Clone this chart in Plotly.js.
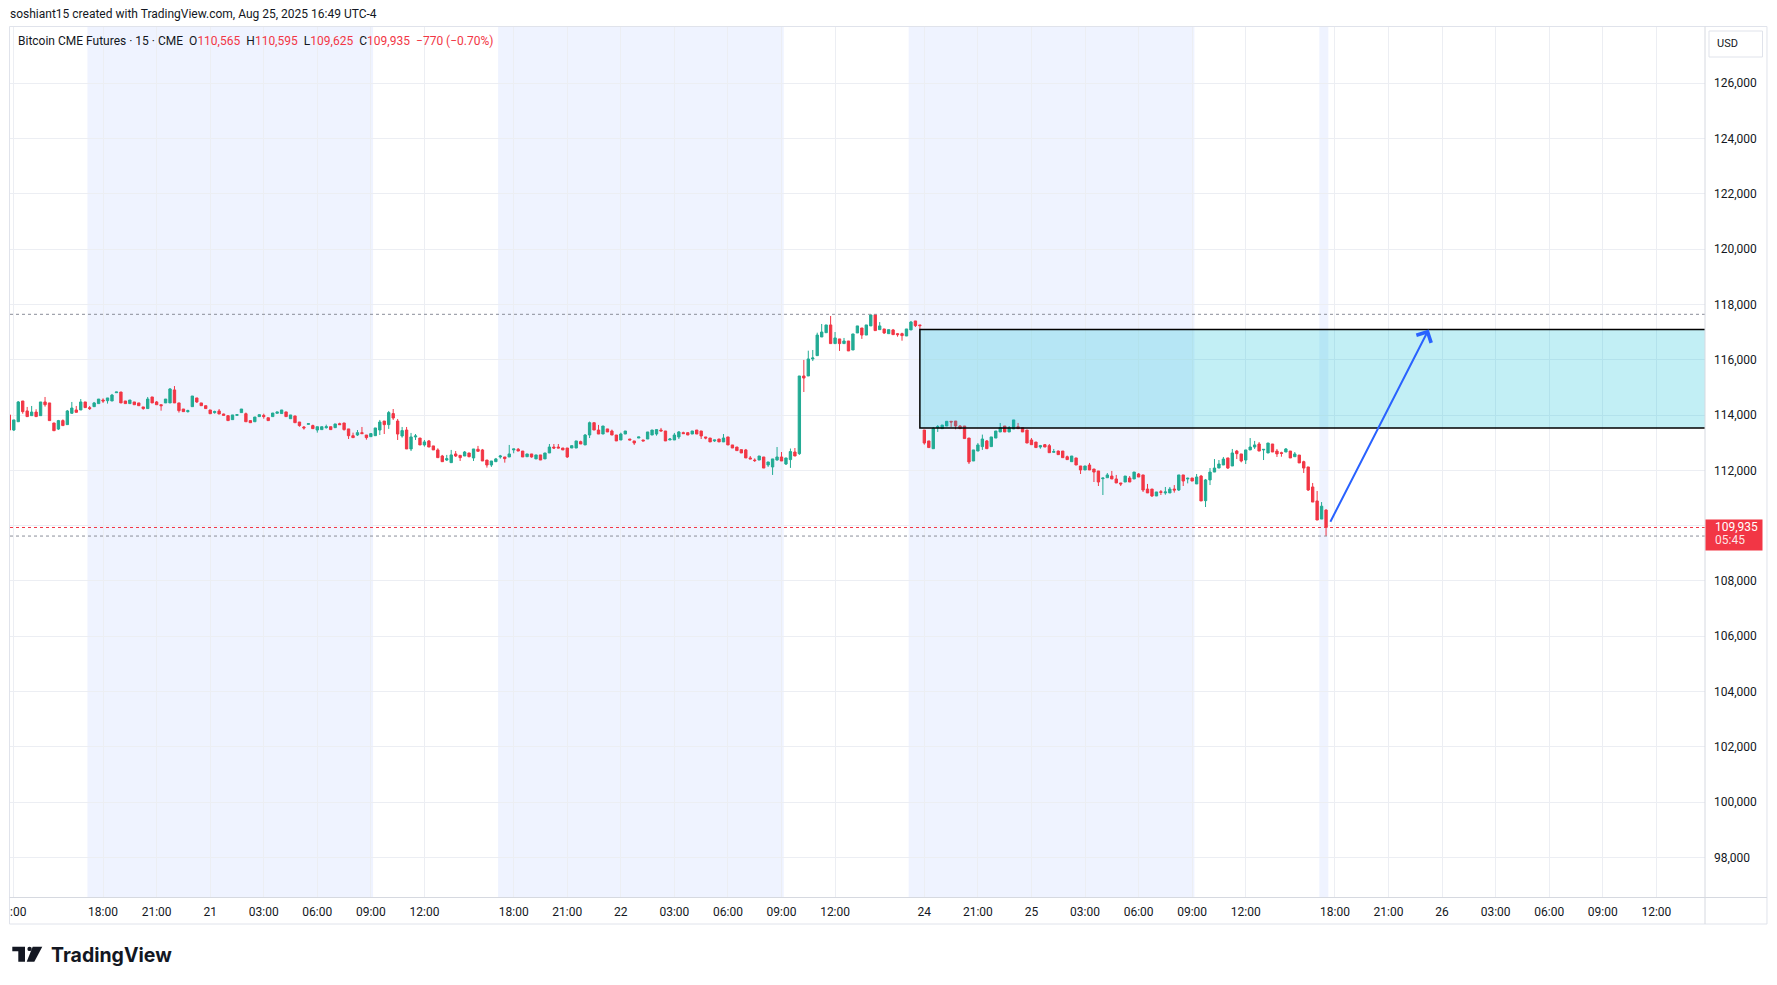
<!DOCTYPE html>
<html><head><meta charset="utf-8">
<script src="https://cdn.plot.ly/plotly-3.0.1.min.js"></script>
<style>html,body{margin:0;padding:0;background:#fff;overflow:hidden}#chart{width:1777px;height:985px}</style>
</head><body><div id="chart"></div>
<script>
// ---------------- data ----------------
const headerText = 'soshiant15 created with TradingView.com, Aug 25, 2025 16:49 UTC-4';
const symbolName = 'Bitcoin CME Futures · 15 · CME';
const barCountdown = '05:45';
const currency = 'USD';

// 15-minute bars, Aug 20 11:45 ET … Aug 25 16:30 ET (sessions joined, as TradingView does)
const open = [
114005,113460,113760,114510,114150,113980,114110,113980,114475,114440,
113715,113495,113800,113655,114065,114185,114185,114475,114270,114305,
114415,114545,114520,114510,114810,114835,114510,114415,114475,114440,
114295,114235,114655,114475,114375,114440,114440,114910,114440,114220,
114125,114305,114620,114440,114340,114185,114090,114150,114040,113980,
113835,113990,114090,114050,113800,113760,113945,113990,113905,113945,
114065,114055,114115,113870,113970,113750,113570,113665,113620,113460,
113475,113545,113580,113545,113690,113715,113500,113255,113280,113365,
113280,113220,113255,113460,113785,113655,114055,113785,113245,113460,
112775,113210,113170,112920,113065,112885,112740,112520,112375,112280,
112595,112545,112520,112630,112450,112765,112740,112375,112195,112315,
112485,112485,112485,112740,112765,112700,112495,112595,112415,112560,
112415,112630,112845,112845,112810,112810,112810,112810,113040,112920,
113280,113725,113460,113315,113500,113425,113280,113100,113315,113135,
113065,113170,113100,113135,113280,113315,113460,113425,113100,113100,
113210,113365,113365,113315,113460,113425,113210,113170,113065,113135,
113030,113210,112920,112845,112750,112740,112450,112375,112375,112485,
112195,112125,112375,112485,112230,112390,112665,112605,115415,115415,
116030,116150,116825,116980,117260,116585,116755,116585,116680,116355,
116970,117150,116895,117225,117630,117090,117115,116945,117080,116945,
116945,116860,117080,117405,117260,113460,113065,112785,113545,113510,
113605,113775,113785,113605,113605,113170,112340,112700,112860,113065,
112860,113170,113390,113605,113390,113500,113580,113545,113460,113100,
113025,112845,112930,112895,112655,112700,112700,112495,112315,112450,
112160,112015,112195,112050,111980,111700,111735,111795,111690,111545,
111580,111725,111690,111870,111835,111325,111325,111075,111230,111185,
111185,111325,111290,111835,111690,111725,111510,111795,110905,111655,
111940,112085,112195,112450,112160,112700,112595,112375,112740,112845,
112955,112740,112630,112955,112700,112640,112665,112700,112495,112555,
112315,112125,111400,110895,110240,110565];
const high = [
114005,113825,114510,114510,114295,114330,114210,114475,114655,114440,
113715,113825,113845,114185,114475,114330,114580,114475,114330,114475,
114580,114605,114620,114765,114835,114835,114510,114545,114475,114440,
114295,114655,114655,114510,114375,114580,114980,115050,114440,114220,
114195,114690,114620,114440,114340,114185,114160,114220,114050,113980,
114005,114015,114220,114090,113800,113930,114015,114050,113905,114075,
114115,114185,114115,114005,113970,113750,113605,113690,113655,113580,
113580,113655,113580,113680,113725,113715,113500,113365,113460,113570,
113280,113330,113535,113825,113785,114150,114220,113860,113570,113570,
113355,113315,113170,113100,113100,112885,112800,112560,112560,112740,
112700,112545,112700,112630,112775,112885,112775,112375,112340,112450,
112560,112485,112920,112775,112810,112700,112595,112595,112560,112560,
112630,112955,112955,112955,112810,112810,112895,113065,113075,113315,
113765,113725,113645,113605,113500,113475,113280,113365,113425,113135,
113065,113210,113100,113390,113460,113475,113535,113425,113170,113355,
113425,113400,113365,113425,113460,113425,113210,113170,113100,113135,
113315,113210,112920,112845,112750,112775,112520,112435,112520,112485,
112305,112415,112845,112665,112450,112790,112810,115415,115995,116330,
116355,116980,117295,117260,117585,117005,116755,116790,116680,116935,
117225,117150,117260,117645,117645,117365,117115,117090,117115,116970,
116980,117115,117405,117405,117260,113460,113065,113570,113640,113640,
113775,113775,113785,113640,113605,113170,112740,112990,113295,113100,
113210,113425,113715,113605,113605,113825,113715,113545,113460,113170,
113025,112920,112955,112955,112775,112715,112700,112535,112520,112450,
112160,112160,112270,112050,111980,111725,111905,111980,111835,111545,
111795,111795,111940,111905,111835,111510,111325,111220,111290,111400,
111400,111470,111835,111835,111735,111725,111870,111835,111690,112085,
112410,112375,112485,112450,112775,112740,112595,112740,113170,113065,
113025,112760,112990,112955,112775,112675,112810,112700,112665,112555,
112350,112125,111545,111255,110855,110595];
const low = [
113460,113425,113760,114050,113945,113980,113945,113980,114305,113800,
113435,113460,113620,113655,114050,114100,114185,114270,114185,114305,
114415,114440,114415,114510,114810,114440,114415,114415,114375,114340,
114195,114235,114440,114375,114160,114440,114440,114440,114090,114125,
114090,114305,114440,114340,114235,114050,114050,114040,113990,113800,
113835,113990,114090,113760,113725,113760,113945,113870,113800,113945,
114065,114055,113945,113870,113725,113580,113475,113665,113510,113365,
113475,113510,113475,113545,113655,113440,113135,113185,113245,113330,
113110,113220,113255,113280,113315,113500,113825,113100,113185,112775,
112700,113100,112920,112860,112845,112740,112460,112315,112340,112280,
112485,112340,112520,112475,112340,112690,112340,112100,112125,112315,
112425,112280,112485,112620,112700,112485,112495,112460,112415,112375,
112415,112630,112775,112810,112740,112450,112810,112810,112955,112920,
113170,113460,113315,113315,113390,113280,113065,113100,113315,113100,
112920,113170,113065,113135,113280,113255,113425,113065,113100,113100,
113135,113330,113280,113315,113315,113135,113125,113030,113030,113030,
113030,112920,112810,112715,112630,112450,112415,112305,112375,112085,
112125,111835,112355,112340,112195,112090,112520,112560,114835,115415,
115955,116150,116825,116980,116585,116585,116320,116585,116320,116355,
116970,116755,116895,117225,117055,117090,116935,116945,116910,116835,
116690,116860,117080,117185,117115,112930,112825,112785,113390,113510,
113605,113570,113485,113510,113150,112230,112340,112700,112740,112785,
112860,113170,113390,113390,113390,113500,113510,113390,112990,112930,
112825,112785,112845,112640,112655,112570,112460,112390,112315,112195,
111870,112015,112015,111580,111435,111110,111735,111690,111545,111435,
111580,111580,111690,111760,111220,111185,111040,111075,111110,111120,
111185,111195,111255,111435,111530,111615,111510,110895,110675,111470,
111940,112085,112195,112050,112160,112410,112290,112230,112740,112775,
112700,112375,112630,112665,112485,112495,112665,112450,112495,112270,
111905,111255,110855,110205,110240,109625];
const close = [
113460,113825,114475,114125,113945,114110,113945,114475,114375,113800,
113435,113800,113620,114150,114255,114100,114475,114270,114235,114440,
114580,114510,114620,114725,114835,114440,114415,114545,114375,114340,
114235,114580,114440,114375,114340,114580,114945,114440,114160,114125,
114160,114690,114475,114340,114235,114050,114125,114040,113990,113800,
114005,114015,114220,113760,113725,113930,114015,113945,113800,114075,
114115,114185,113945,114005,113725,113620,113535,113690,113510,113580,
113580,113580,113475,113680,113655,113475,113255,113185,113365,113330,
113185,113330,113535,113750,113655,114090,113895,113315,113440,112775,
113210,113245,112920,113030,112845,112740,112460,112315,112425,112560,
112520,112460,112665,112495,112775,112690,112340,112195,112340,112415,
112520,112425,112595,112775,112700,112485,112595,112485,112560,112375,
112630,112845,112810,112810,112740,112485,112895,113065,112955,113280,
113725,113460,113315,113605,113390,113280,113065,113315,113425,113100,
112990,113210,113065,113390,113460,113475,113425,113065,113135,113280,
113390,113330,113280,113425,113315,113245,113170,113030,113100,113030,
113170,112920,112810,112715,112630,112450,112415,112355,112520,112085,
112305,112415,112485,112340,112450,112680,112520,115415,115340,116030,
116065,116895,117005,117260,116585,116790,116585,116680,116320,116935,
117225,116895,117260,117620,117055,117225,116970,117090,116910,116910,
116875,117115,117365,117235,117235,112990,112825,113520,113580,113640,
113775,113750,113605,113510,113150,112305,112740,112920,113135,112785,
113210,113425,113545,113390,113545,113825,113510,113390,112990,112930,
112825,112895,112845,112640,112680,112570,112460,112390,112520,112195,
112015,112160,112015,111940,111580,111725,111835,111690,111545,111510,
111795,111580,111940,111760,111290,111185,111075,111220,111205,111220,
111325,111290,111835,111615,111715,111615,111760,110895,111655,111940,
112085,112230,112410,112085,112630,112605,112340,112740,112845,112920,
112700,112760,112990,112665,112595,112615,112775,112450,112595,112270,
112085,111290,110855,110205,110705,109935];

// time-axis labels (bar number -> label)
const tickBars   = [1, 21, 33, 45, 57, 69, 81, 93, 113, 125, 137, 149, 161, 173, 185, 205, 217, 229, 241, 253, 265, 277, 297, 309, 321, 333, 345, 357, 369];
const tickLabels = ['\u00a0\u00a0\u00a0:00','18:00','21:00','21','03:00','06:00','09:00','12:00','18:00','21:00','22','03:00','06:00','09:00','12:00','24','21:00','25','03:00','06:00','09:00','12:00','18:00','21:00','26','03:00','06:00','09:00','12:00'];
const priceTicks = [98000,100000,102000,104000,106000,108000,110000,112000,114000,116000,118000,120000,122000,124000,126000];

// extended-hours sessions (first bar, last bar)
const extFirstBar = [18, 110, 202, 294];
const extLastBar  = [81, 173, 265, 295];

// drawings
const zoneStartBar = 204;
const zoneTop = 117100;
const zoneBottom = 113530;
const arrowFrom = [295.8, 110090];
const arrowTo   = [318, 117100];

// ---------------- layout helpers ----------------
const W = 1777, H = 985;
const M = {l: 10, r: 71.5, t: 27, b: 88, pad: 0};
const PW = W - M.l - M.r, PH = H - M.t - M.b;
const px = x => (x - M.l) / PW;
const py = y => 1 - (y - M.t) / PH;
const xRange = [0.15, 379.9];
const yRange = [96571, 128036];

const UP = '#22ab94', DOWN = '#f23645', TXT = '#131722';
const FONT = 'Roboto, "Liberation Sans", Arial, sans-serif';
const bars = open.map((_, k) => k);
const fmt = v => v.toLocaleString('en-US');

const n = close.length;
const lastO = open[n-1], lastH = high[n-1], lastL = low[n-1], lastC = close[n-1];
const chg = lastC - close[n-2];
const chgPct = chg / close[n-2] * 100;
const minus = v => (v < 0 ? '\u2212' : '+') + Math.abs(v);
const red = s => `<span style="color:${DOWN}">${s}</span>`;
const legendText = `${symbolName}\u2002O${red(fmt(lastO))}\u2002H${red(fmt(lastH))}\u2002L${red(fmt(lastL))}\u2002C${red(fmt(lastC))}\u2002${red(minus(chg) + ' (' + (chgPct < 0 ? '\u2212' : '+') + Math.abs(chgPct).toFixed(2) + '%)')}`;

const shapes = [];
// extended-hours shading
extFirstBar.forEach((f, k) => shapes.push({type: 'rect', xref: 'x', yref: 'paper', x0: f - 0.5, x1: extLastBar[k] + 0.5, y0: 0, y1: 1,
  fillcolor: 'rgba(41,98,255,0.075)', line: {width: 0}, layer: 'below'}));
// high / low / last price lines
const maxH = Math.max(...high), minL = Math.min(...low);
[[maxH, '#8a8e99'], [minL, '#8a8e99'], [lastC, DOWN]].forEach(([v, c]) => shapes.push({type: 'line', xref: 'paper', yref: 'y',
  x0: 0, x1: 1, y0: v, y1: v, line: {color: c, width: 1, dash: 'dot'}, layer: 'above'}));
// zone rectangle
shapes.push({type: 'rect', xref: 'x', yref: 'y', x0: zoneStartBar, x1: xRange[1] + 10, y0: zoneBottom, y1: zoneTop,
  fillcolor: 'rgba(0,188,212,0.24)', line: {color: '#000000', width: 1.5}, layer: 'above'});
// chart frame
const frameLine = {color: '#e0e3eb', width: 1};
shapes.push({type: 'rect', xref: 'paper', yref: 'paper', x0: px(9.5), x1: px(1767.5), y0: py(924), y1: py(26.5), line: frameLine, fillcolor: 'rgba(0,0,0,0)'});
shapes.push({type: 'line', xref: 'paper', yref: 'paper', x0: px(1705.5), x1: px(1705.5), y0: py(924), y1: py(26.5), line: {color: '#d6d9e0', width: 1}});
shapes.push({type: 'line', xref: 'paper', yref: 'paper', x0: px(9.5), x1: px(1767.5), y0: py(897.5), y1: py(897.5), line: {color: '#d6d9e0', width: 1}});
// currency box
shapes.push({type: 'rect', xref: 'paper', yref: 'paper', x0: px(1709.5), x1: px(1763), y0: py(57), y1: py(31), line: {color: '#e0e3eb', width: 1}, fillcolor: '#ffffff'});
// TradingView logo mark
const pathOf = pts => 'M' + pts.map(([a, b]) => px(a) + ',' + py(b)).join(' L') + ' Z';
shapes.push({type: 'path', xref: 'paper', yref: 'paper', path: pathOf([[12.3,946.7],[25,946.7],[25,961.7],[18.3,961.7],[18.3,951.3],[12.3,951.3]]), fillcolor: TXT, line: {width: 0}});
shapes.push({type: 'circle', xref: 'paper', yref: 'paper', x0: px(27.4), x1: px(31.8), y0: py(951.1), y1: py(946.7), fillcolor: TXT, line: {width: 0}});
shapes.push({type: 'path', xref: 'paper', yref: 'paper', path: pathOf([[32.7,946.7],[42.3,946.7],[34.3,961.7],[26.7,961.7]]), fillcolor: TXT, line: {width: 0}});

const annotations = [
  {xref: 'paper', yref: 'paper', x: px(16), y: py(41), xanchor: 'left', yanchor: 'middle', showarrow: false,
   text: legendText, font: {family: FONT, size: 12, color: TXT}},
  {xref: 'paper', yref: 'paper', x: px(1715.5), y: py(44), xanchor: 'left', yanchor: 'middle', showarrow: false,
   text: currency, font: {family: FONT, size: 11, color: TXT}},
  // last-price badge on the price scale (box), then its two text lines
  {xref: 'paper', yref: 'y', x: 1, y: lastC, xanchor: 'left', yanchor: 'top', yshift: 8, showarrow: false,
   text: '', width: 56, height: 30, borderpad: 0, bgcolor: DOWN},
  {xref: 'paper', yref: 'y', x: px(1713.5), y: lastC, xanchor: 'left', yanchor: 'middle', yshift: 0, showarrow: false,
   text: fmt(lastC), font: {family: FONT, size: 12, color: '#ffffff'}},
  {xref: 'paper', yref: 'y', x: px(1713.5), y: lastC, xanchor: 'left', yanchor: 'middle', yshift: -13, showarrow: false,
   text: barCountdown, font: {family: FONT, size: 12, color: 'rgba(255,255,255,0.88)'}},
  {xref: 'x', yref: 'y', axref: 'x', ayref: 'y', x: arrowTo[0], y: arrowTo[1], ax: arrowFrom[0], ay: arrowFrom[1],
   text: '', showarrow: true, arrowhead: 4, arrowsize: 1.6, arrowwidth: 2, arrowcolor: '#2962ff', standoff: 0, startstandoff: 0},
  {xref: 'paper', yref: 'paper', x: px(49), y: py(955), xanchor: 'left', yanchor: 'middle', showarrow: false,
   text: '<b>TradingView</b>', font: {family: 'Inter, Roboto, sans-serif', size: 19.5, color: TXT}}
];

const trace = {
  type: 'candlestick', x: bars, open: open, high: high, low: low, close: close,
  increasing: {line: {color: UP, width: 1}, fillcolor: UP},
  decreasing: {line: {color: DOWN, width: 1}, fillcolor: DOWN},
  whiskerwidth: 0, hoverinfo: 'skip', showlegend: false
};

const layout = {
  width: W, height: H, margin: M, paper_bgcolor: '#ffffff', plot_bgcolor: '#ffffff',
  showlegend: false, hovermode: false, dragmode: false, boxgap: 0.25,
  title: {text: headerText, x: 10 / W, xanchor: 'left', xref: 'container', y: 1 - 13.6 / H, yref: 'container', yanchor: 'middle',
          font: {family: FONT, size: 12, color: TXT}},
  xaxis: {type: 'linear', range: xRange, tickmode: 'array', tickvals: tickBars, ticktext: tickLabels,
          showgrid: true, gridcolor: '#eceef3', gridwidth: 1, zeroline: false, showline: false, ticks: '',
          ticklabelstandoff: 6, ticklabeloverflow: 'allow', tickfont: {family: FONT, size: 12, color: TXT},
          rangeslider: {visible: false}, fixedrange: true},
  yaxis: {side: 'right', range: yRange, tickmode: 'array', tickvals: priceTicks, tickformat: ',d',
          showgrid: true, gridcolor: '#eceef3', gridwidth: 1, zeroline: false, showline: false, ticks: '',
          ticklabelstandoff: 8, tickfont: {family: FONT, size: 12, color: TXT}, fixedrange: true},
  shapes: shapes, annotations: annotations
};

Plotly.newPlot('chart', [trace], layout, {staticPlot: true, displayModeBar: false});
</script></body></html>
